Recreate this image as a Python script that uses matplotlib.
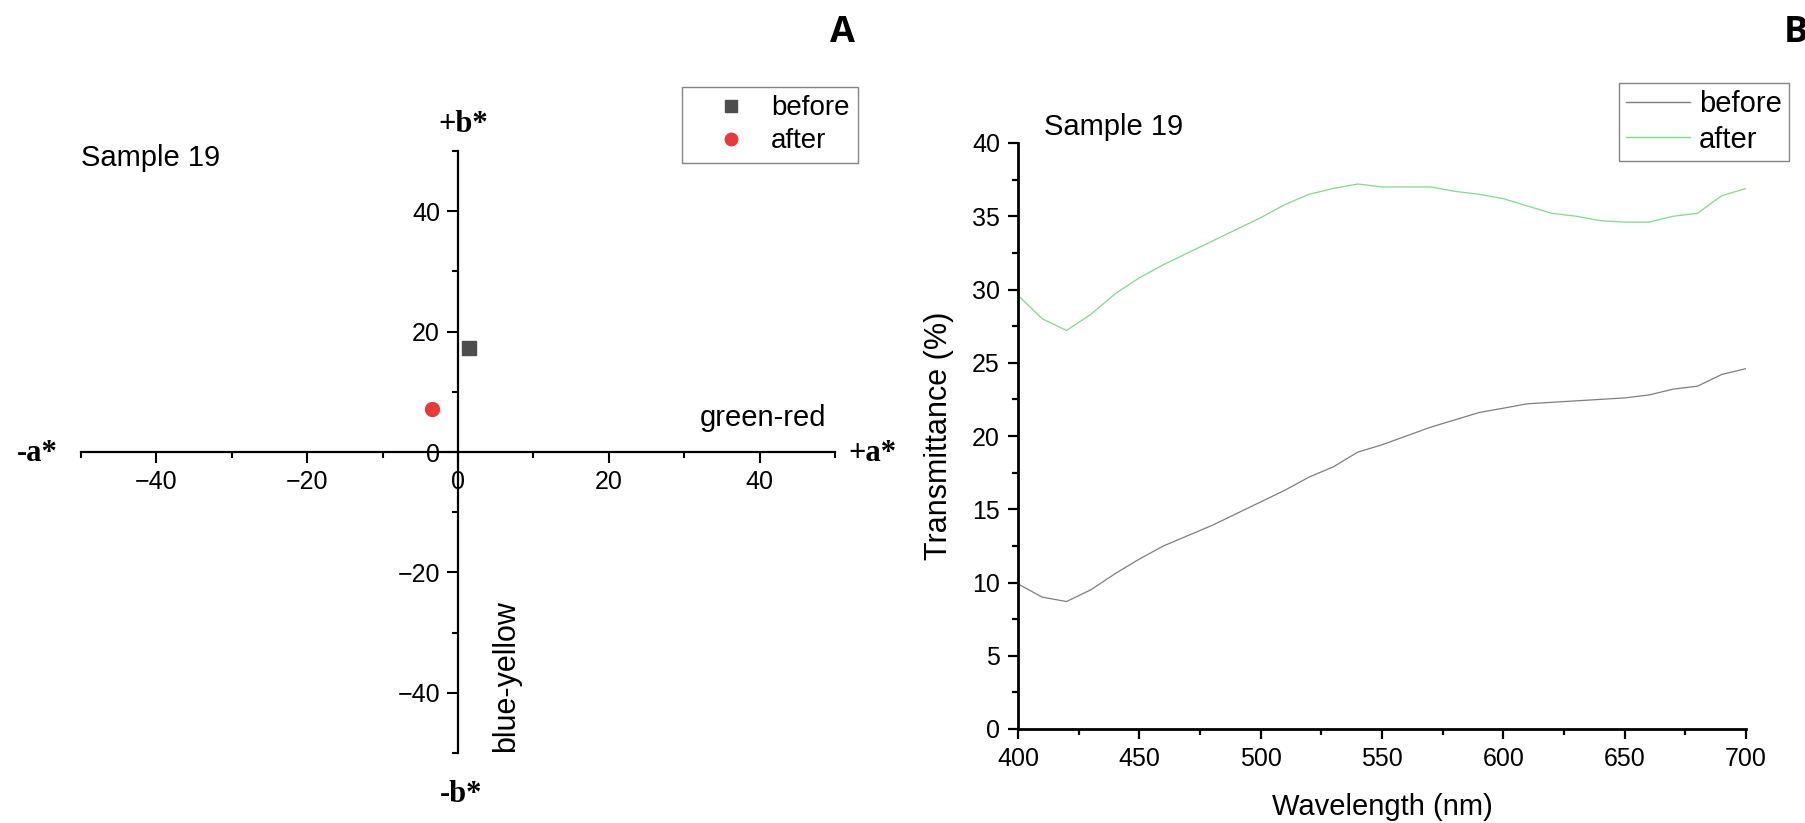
import matplotlib
matplotlib.use("Agg")
import matplotlib.pyplot as plt
from matplotlib.ticker import MultipleLocator

# ---------------- data ----------------
series_names = ["before", "after"]
a_before = [1.4]
b_before = [17.2]
a_after = [-3.4]
b_after = [7.1]

wavelength = [400, 410, 420, 430, 440, 450, 460, 470, 480, 490, 500,
              510, 520, 530, 540, 550, 560, 570, 580, 590, 600,
              610, 620, 630, 640, 650, 660, 670, 680, 690, 700]
trans_before = [9.9, 9.0, 8.7, 9.5, 10.6, 11.6, 12.5, 13.2, 13.9, 14.7, 15.5,
                16.3, 17.2, 17.9, 18.9, 19.4, 20.0, 20.6, 21.1, 21.6, 21.9,
                22.2, 22.3, 22.4, 22.5, 22.6, 22.8, 23.2, 23.4, 24.2, 24.6]
trans_after = [29.6, 28.0, 27.2, 28.3, 29.7, 30.8, 31.7, 32.5, 33.3, 34.1, 34.9,
               35.8, 36.5, 36.9, 37.2, 37.0, 37.0, 37.0, 36.7, 36.5, 36.2,
               35.7, 35.2, 35.0, 34.7, 34.6, 34.6, 35.0, 35.2, 36.4, 36.9]

# ---------------- style ----------------
W, H = 1805, 823
plt.rcParams['font.family'] = ['Liberation Sans', 'DejaVu Sans']
fig = plt.figure(figsize=(W / 100, H / 100), dpi=100)

def fx(px):
    return px / W

def fy(py):
    return 1 - py / H

c_before_marker = '#4d4d4d'
c_after_marker = '#e83a3a'
c_before_line = '#7f7f7f'
c_after_line = '#82d88e'

serif_bold = dict(family=['Liberation Serif', 'DejaVu Serif'], weight='bold', size=22)

# ---------------- panel A ----------------
axA = fig.add_axes([fx(81), fy(753), fx(835) - fx(81), fy(151) - fy(753)])
axA.set_xlim(-50, 50)
axA.set_ylim(-50, 50)
for s in ['top', 'right']:
    axA.spines[s].set_visible(False)
axA.spines['left'].set_position(('data', 0))
axA.spines['bottom'].set_position(('data', 0))
for s in ['left', 'bottom']:
    axA.spines[s].set_linewidth(1.6)
axA.xaxis.set_major_locator(MultipleLocator(20))
axA.xaxis.set_minor_locator(MultipleLocator(10))
axA.yaxis.set_major_locator(MultipleLocator(20))
axA.yaxis.set_minor_locator(MultipleLocator(10))
axA.tick_params(axis='both', which='major', direction='out', length=8, width=1.5,
                labelsize=18, pad=5)
axA.tick_params(axis='both', which='minor', direction='out', length=4.5, width=1.5)
axA.patch.set_alpha(0)

axA.plot(a_before, b_before, linestyle='none', marker='s', markersize=9.5,
         color=c_before_marker, label=series_names[0], clip_on=False, zorder=5)
axA.plot(a_after, b_after, linestyle='none', marker='o', markersize=10,
         color=c_after_marker, label=series_names[1], clip_on=False, zorder=5)

legA = axA.legend(loc='upper right', bbox_to_anchor=(fx(858), fy(87)),
                  bbox_transform=fig.transFigure, borderaxespad=0, fontsize=20,
                  frameon=True, fancybox=False, edgecolor='#666666',
                  handletextpad=0.0, labelspacing=0.25, borderpad=0.3,
                  handlelength=2.9, markerscale=0.9)
legA.get_frame().set_linewidth(1.0)

fig.text(fx(463), fy(132), '+b*', ha='center', va='baseline', **serif_bold)
fig.text(fx(461), fy(802), '-b*', ha='center', va='baseline', **serif_bold)
fig.text(fx(58), fy(461), '-a*', ha='right', va='baseline', **serif_bold)
fig.text(fx(848), fy(461), '+a*', ha='left', va='baseline', **serif_bold)
fig.text(fx(826), fy(426), 'green-red', ha='right', va='baseline', fontsize=21)
fig.text(fx(506), fy(752), 'blue-yellow', ha='center', va='bottom',
         rotation=90, fontsize=22)
fig.text(fx(81), fy(166), 'Sample 19', ha='left', va='baseline', fontsize=21)

panel_font = dict(family=['Open Sans', 'DejaVu Sans'], weight='bold', size=26)
fig.text(fx(842), fy(42), 'A', ha='center', va='baseline', **panel_font)
fig.text(fx(1784), fy(42), 'B', ha='left', va='baseline', **panel_font)

# ---------------- panel B ----------------
axB = fig.add_axes([fx(1018), fy(729), fx(1746) - fx(1018), fy(143) - fy(729)])
axB.plot(wavelength, trans_before, color=c_before_line, linewidth=0.9,
         label=series_names[0])
axB.plot(wavelength, trans_after, color=c_after_line, linewidth=0.9,
         label=series_names[1])
axB.set_xlim(400, 700)
axB.set_ylim(0, 40)
for s in ['top', 'right']:
    axB.spines[s].set_visible(False)
for s in ['left', 'bottom']:
    axB.spines[s].set_linewidth(2.0)
axB.xaxis.set_major_locator(MultipleLocator(50))
axB.xaxis.set_minor_locator(MultipleLocator(25))
axB.yaxis.set_major_locator(MultipleLocator(5))
axB.yaxis.set_minor_locator(MultipleLocator(2.5))
axB.tick_params(axis='both', which='major', direction='out', length=7, width=1.6,
                labelsize=18, pad=6)
axB.tick_params(axis='both', which='minor', direction='out', length=4, width=1.6)
axB.set_xlabel('Wavelength (nm)', fontsize=21, labelpad=16)
axB.set_ylabel('Transmittance (%)', fontsize=22, labelpad=13)

legB = axB.legend(loc='upper right', bbox_to_anchor=(fx(1789), fy(83)),
                  bbox_transform=fig.transFigure, borderaxespad=0, fontsize=21,
                  frameon=True, fancybox=False, edgecolor='#666666',
                  handletextpad=0.3, labelspacing=0.25, borderpad=0.25,
                  handlelength=2.2, handleheight=0.7)
legB.get_frame().set_linewidth(1.0)
for ln in legB.get_lines():
    ln.set_linewidth(1.0)

fig.text(fx(1044), fy(135), 'Sample 19', ha='left', va='baseline', fontsize=21)

fig.savefig('out.png', dpi=100, facecolor='white')
